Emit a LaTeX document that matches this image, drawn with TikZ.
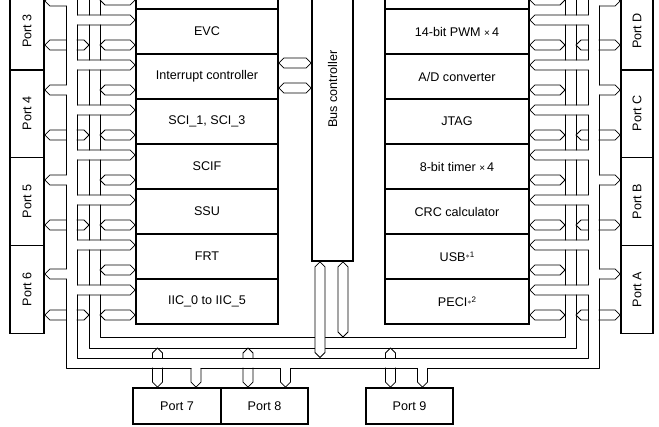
\documentclass[tikz,border=0pt]{standalone}
\usepackage{fontspec}
\setmainfont{Liberation Sans}
\usepackage{tikz}
\usetikzlibrary{calc}
\tikzset{
  blk/.style={draw=black,line width=1.8pt,inner sep=0pt,
    font=\fontsize{12.6}{15}\selectfont},
  lmod/.style={blk,minimum width=142pt,minimum height=45pt},
  rmod/.style={blk,minimum width=144pt,minimum height=45pt},
  lport/.style={blk,minimum width=34pt,minimum height=88pt},
  rport/.style={blk,minimum width=32pt,minimum height=88pt},
  bport/.style={blk,minimum height=36pt},
  bus/.style={draw=black,fill=white,line width=0.8pt,line join=round},
  busln/.style={draw=black,line width=0.8pt,line join=round},
}
% two-way bus, tips at #1 and #2
\newcommand{\hexh}[2]{\filldraw[bus] (#1) -- ($(#1)+(5,-5)$) -- ($(#2)+(-5,-5)$)
  -- (#2) -- ($(#2)+(-5,5)$) -- ($(#1)+(5,5)$) -- cycle;}
\newcommand{\hexv}[2]{\filldraw[bus] (#1) -- ($(#1)+(5,5)$) -- ($(#2)+(5,-5)$)
  -- (#2) -- ($(#2)+(-5,-5)$) -- ($(#1)+(-5,5)$) -- cycle;}
% one-way branch off a bus: root #1 on the bus edge, tip #2, #3 = 1 or -1
\newcommand{\outh}[3]{%
  \fill[white] ($(#1)+({-3*#3},-4.6)$) -- ($(#2)+({-5*#3},-4.6)$) -- (#2)
    -- ($(#2)+({-5*#3},4.6)$) -- ($(#1)+({-3*#3},4.6)$) -- cycle;
  \draw[busln] ($(#1)+(0,-5)$) -- ($(#2)+({-5*#3},-5)$) -- (#2)
    -- ($(#2)+({-5*#3},5)$) -- ($(#1)+(0,5)$);}
\newcommand{\outv}[3]{%
  \fill[white] ($(#1)+(-4.6,{-3*#3})$) -- ($(#2)+(-4.6,{-5*#3})$) -- (#2)
    -- ($(#2)+(4.6,{-5*#3})$) -- ($(#1)+(4.6,{-3*#3})$) -- cycle;
  \draw[busln] ($(#1)+(-5,0)$) -- ($(#2)+(-5,{-5*#3})$) -- (#2)
    -- ($(#2)+(5,{-5*#3})$) -- ($(#1)+(5,0)$);}
\newcommand{\starnote}[1]{{\footnotesize\raisebox{.55ex}{$\ast$}\raisebox{1ex}{#1}}}
\newcommand{\timesfour}{\ {\fontsize{10}{12}\selectfont ×}\,4}

\begin{document}
\begin{tikzpicture}[x=1pt,y=-1pt]
\useasboundingbox (0,0) rectangle (659,426);
\clip (0,0) rectangle (659,426);

% modules
\foreach \nm/\txt [count=\k from 0] in {ltop/{},evc/EVC,intc/Interrupt controller,
  sci/{SCI\_1, SCI\_3},scif/SCIF,ssu/SSU,frt/FRT,iic/IIC\_0 to IIC\_5}
  \node[lmod] (\nm) at (207,{45*\k-13.5}) {\txt};
\foreach \nm/\txt [count=\k from 0] in {rtop/{},pwm/{14-bit PWM\timesfour},
  adc/{A/D converter},jtag/JTAG,tmr/{8-bit timer\timesfour},crc/CRC calculator,
  usb/{USB\starnote{1}},peci/{PECI\starnote{2}}}
  \node[rmod] (\nm) at (457,{45*\k-13.5}) {\txt};
\node[blk,minimum width=41pt,minimum height=344pt] (busc) at (332.5,89)
  {\rotatebox{90}{Bus controller}};

% ports
\node[lport,minimum height=78pt] (p3) at (27,31) {\rotatebox{90}{Port 3}};
\foreach \nm/\txt/\y in {p4/Port 4/113.5,p5/Port 5/201.5,p6/Port 6/289.5}
  \node[lport] (\nm) at (27,\y) {\rotatebox{90}{\txt}};
\node[rport,minimum height=78pt] (pd) at (637,31) {\rotatebox{90}{Port D}};
\foreach \nm/\txt/\y in {pc/Port C/113.5,pb/Port B/201.5,pa/Port A/289.5}
  \node[rport] (\nm) at (637,\y) {\rotatebox{90}{\txt}};
\node[bport,minimum width=88pt] (p7) at (177,406) {Port 7};
\node[bport,minimum width=87pt] (p8) at (264.5,406) {Port 8};
\node[bport,minimum width=87pt] (p9) at (409.5,406) {Port 9};

% inner bus (two-way)
\draw[busln] (89,-5) -- (89,348) -- (576,348) -- (576,-5);
\draw[busln] (100,-5) -- (100,337) -- (565,337) -- (565,-5);
\foreach \nm [count=\k from 0] in {ltop,evc,intc,sci,scif,ssu,frt,iic}{
  \pgfmathsetmacro\yd{45*\k}
  \hexh{100,\yd}{\nm.west |- 0,\yd}}
\foreach \nm [count=\k from 0] in {rtop,pwm,adc,jtag,tmr,crc,usb,peci}{
  \pgfmathsetmacro\yd{45*\k}
  \hexh{\nm.east |- 0,\yd}{565,\yd}}
\foreach \nm/\y in {p3/45,p4/135,p5/225,p6/315}{\hexh{\nm.east |- 0,\y}{89,\y}}
\foreach \nm/\y in {pd/45,pc/135,pb/225,pa/315}{\hexh{576,\y}{\nm.west |- 0,\y}}
\foreach \nm/\x in {p7/157.5,p8/248,p9/390.5}{\hexv{\x,348}{\nm.north -| \x,0}}
\hexv{busc.south -| 343,0}{343,337}
\hexv{busc.south -| 320,0}{320,357.5}
\hexh{intc.east |- 0,63}{busc.west |- 0,63}
\hexh{intc.east |- 0,88}{busc.west |- 0,88}

% outer bus (one-way)
\fill[white] (66.4,-5) -- (66.4,367.6) -- (598.6,367.6) -- (598.6,-5) -- (588.4,-5)
  -- (588.4,358.4) -- (76.6,358.4) -- (76.6,-5) -- cycle;
\draw[busln] (66,-5) -- (66,368) -- (599,368) -- (599,-5);
\draw[busln] (77,-5) -- (77,358) -- (588,358) -- (588,-5);
\foreach \nm [count=\k] in {evc,intc,sci,scif,ssu,frt,iic}{
  \pgfmathsetmacro\ya{45*\k-25}
  \outh{77,\ya}{\nm.west |- 0,\ya}{1}}
\foreach \nm [count=\k] in {pwm,adc,jtag,tmr,crc,usb,peci}{
  \pgfmathsetmacro\ya{45*\k-25}
  \outh{588,\ya}{\nm.east |- 0,\ya}{-1}}
\foreach \nm/\y in {p3/1,p4/90,p5/180,p6/274}{\outh{66,\y}{\nm.east |- 0,\y}{-1}}
\foreach \nm/\y in {pd/1,pc/90,pb/180,pa/274}{\outh{599,\y}{\nm.west |- 0,\y}{1}}
\foreach \nm/\x in {p7/196,p8/285.5,p9/422.5}{\outv{\x,368}{\nm.north -| \x,0}{1}}
\end{tikzpicture}
\end{document}
